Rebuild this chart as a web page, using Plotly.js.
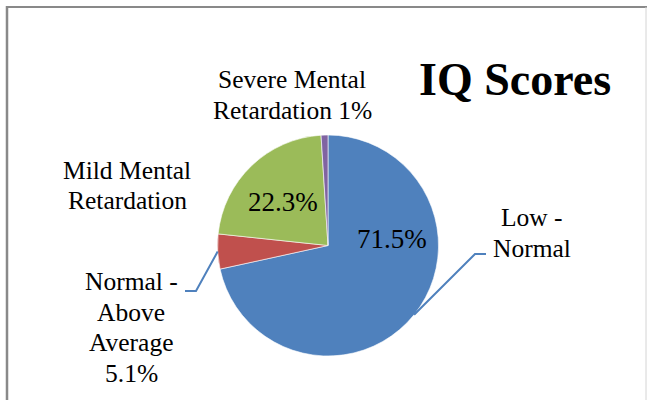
<!DOCTYPE html>
<html>
<head>
<meta charset="utf-8">
<script src="https://cdn.plot.ly/plotly-3.0.1.min.js"></script>
<style>html,body{margin:0;padding:0;background:#fff;}#chart{width:647px;height:400px;}</style>
</head>
<body>
<div id="chart"></div>
<script>
// ---- data ----
const categories = ['Low - Normal', 'Normal - Above Average', 'Mild Mental Retardation', 'Severe Mental Retardation'];
const values = [71.5, 5.1, 22.3, 1];
const valueLabels = ['71.5%', '5.1%', '22.3%', '1%'];
const colors = ['#4f81bd', '#c0504d', '#9bbb59', '#8064a2'];
const chartTitle = 'IQ Scores';

// ---- layout helpers (pixel -> paper) ----
const W = 647, H = 400;
const px = x => x / W;
const py = y => 1 - y / H;
const FONT = 'Liberation Serif, Times New Roman, serif';

const pieCx = 328, pieCy = 245.5, pieR = 110.5;

// label lines: [text, centerX, centerY(px)], per category
const outsideLabels = [
  {lines: ['Low -', 'Normal'], x: 532, y: [217, 248]},
  {lines: ['Normal -', 'Above', 'Average', valueLabels[1]], x: 131, y: [281, 312, 342, 373]},
  {lines: ['Mild Mental', 'Retardation'], x: 127, y: [170, 200]},
  {lines: ['Severe Mental', 'Retardation ' + valueLabels[3]], x: 292, y: [80, 110]}
];
const insideLabels = [
  {i: 0, x: 392, y: 239},
  {i: 2, x: 283, y: 202}
];

const annotations = [];
outsideLabels.forEach(l => {
  l.lines.forEach((t, k) => {
    annotations.push({xref: 'paper', yref: 'paper', x: px(l.x), y: py(l.y[k]),
      xanchor: 'center', yanchor: 'middle', showarrow: false, text: t,
      font: {family: FONT, size: 25.5, color: '#000'}});
  });
});
insideLabels.forEach(l => {
  annotations.push({xref: 'paper', yref: 'paper', x: px(l.x), y: py(l.y),
    xanchor: 'center', yanchor: 'middle', showarrow: false, text: valueLabels[l.i],
    font: {family: FONT, size: 27, color: '#000'}});
});
annotations.push({xref: 'paper', yref: 'paper', x: px(515), y: py(80),
  xanchor: 'center', yanchor: 'middle', showarrow: false, text: '<b>' + chartTitle + '</b>',
  font: {family: FONT, size: 46, color: '#000'}});

// leader lines start at slice mid-angle on the rim
const total = values.reduce((a, b) => a + b, 0);
function midPoint(i) {
  let before = 0;
  for (let k = 0; k < i; k++) before += values[k];
  const ang = (before + values[i] / 2) / total * 2 * Math.PI;
  return [pieCx + pieR * Math.sin(ang), pieCy - pieR * Math.cos(ang)];
}
const leaders = [
  {i: 0, pts: [[475, 254], [486, 254]]},
  {i: 1, pts: [[196, 291], [185, 291]]}
];
const shapes = [];
leaders.forEach(l => {
  const s = midPoint(l.i);
  const all = [s].concat(l.pts);
  const path = all.map((p, k) => (k ? 'L' : 'M') + px(p[0]) + ',' + py(p[1])).join(' ');
  shapes.push({type: 'path', xref: 'paper', yref: 'paper', path: path,
    line: {color: '#4f81bd', width: 2}});
});
// chart area border
shapes.push({type: 'line', xref: 'paper', yref: 'paper', x0: px(7), x1: px(7), y0: py(6), y1: py(402), line: {color: '#898989', width: 2.5}});
shapes.push({type: 'line', xref: 'paper', yref: 'paper', x0: px(6), x1: px(647), y0: py(7), y1: py(7), line: {color: '#898989', width: 2}});
shapes.push({type: 'line', xref: 'paper', yref: 'paper', x0: px(646), x1: px(646), y0: py(7), y1: py(402), line: {color: '#d4d4d4', width: 1}});

const trace = {
  type: 'pie',
  labels: categories,
  values: values,
  sort: false,
  direction: 'clockwise',
  rotation: 0,
  marker: {colors: colors, line: {color: '#ffffff', width: 0.6}},
  textinfo: 'none',
  hoverinfo: 'label+percent',
  showlegend: false,
  domain: {x: [px(pieCx - pieR), px(pieCx + pieR)], y: [py(pieCy + pieR), py(pieCy - pieR)]}
};

const layout = {
  width: W, height: H,
  margin: {l: 0, r: 0, t: 0, b: 0},
  paper_bgcolor: '#ffffff',
  showlegend: false,
  annotations: annotations,
  shapes: shapes
};

Plotly.newPlot('chart', [trace], layout, {displayModeBar: false, staticPlot: true});
</script>
</body>
</html>
